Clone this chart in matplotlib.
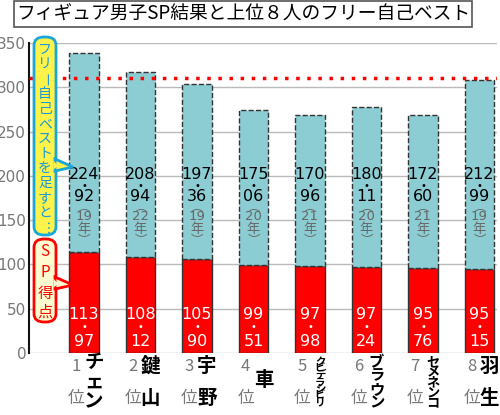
import matplotlib
matplotlib.use("Agg")
import matplotlib.pyplot as plt
from matplotlib.patches import FancyBboxPatch, Polygon

plt.rcParams['font.family'] = ['Noto Sans CJK JP', 'DejaVu Sans']

ranks = ["1", "2", "3", "4", "5", "6", "7", "8"]
names = ["チェン", "鍵山", "宇野", "車", "クビデラシビリ", "ブラウン", "セメネンコ", "羽生"]
sp = [113.97, 108.12, 105.90, 99.51, 97.98, 97.24, 95.76, 95.15]
free = [224.92, 208.94, 197.36, 175.06, 170.96, 180.11, 172.60, 212.99]
sp_lbl = [("113", "97"), ("108", "12"), ("105", "90"), ("99", "51"), ("97", "98"), ("97", "24"), ("95", "76"), ("95", "15")]
free_lbl = [("224", "92"), ("208", "94"), ("197", "36"), ("175", "06"), ("170", "96"), ("180", "11"), ("172", "60"), ("212", "99")]
years = ["19", "22", "19", "20", "21", "20", "21", "19"]
ref_line = 310.5

W, H = 500, 415
fig = plt.figure(figsize=(5, 4.15), dpi=100)
def fx(px): return px / W
def fy(py): return 1 - py / H

ax = fig.add_axes([fx(29), fy(353), fx(497) - fx(29), fy(43) - fy(353)])
ax.set_ylim(0, 350)
ax.set_xlim(-0.973, 7.31)
x = list(range(len(sp)))
ax.bar(x, sp, width=0.53, color='#ff0000', edgecolor='#333333', linewidth=1, zorder=3)
ax.bar(x, free, bottom=sp, width=0.53, color='#8ccdd3', edgecolor='#333333', linewidth=1, linestyle='--', zorder=3)
ax.axhline(ref_line, color='#ff0000', linestyle=(0, (1, 2.2)), linewidth=2.5, zorder=4)
ax.set_yticks(range(0, 351, 50))
ax.tick_params(axis='y', length=0, labelsize=11, labelcolor='#777777', pad=2)
for lb in ax.get_yticklabels():
    lb.set_family('DejaVu Sans')
ax.set_xticks([])
ax.grid(axis='y', color='#bbbbbb', linewidth=1, zorder=0)
for s in ['top', 'right', 'bottom']:
    ax.spines[s].set_visible(False)
ax.spines['left'].set_color('#111111')
ax.spines['left'].set_linewidth(1.5)

nf = dict(ha='center', va='center', fontsize=11.5, zorder=5, family='Liberation Sans Narrow')
for i in x:
    a, b = free_lbl[i]
    ax.text(i, 201, a, color='black', **nf)
    ax.text(i, 189, "•", ha='center', va='center', fontsize=7, color='black', zorder=5, family='DejaVu Sans')
    ax.text(i, 177, b, color='black', **nf)
    ax.text(i, 165, "︵", ha='center', va='center', fontsize=9, color='#666666', zorder=5)
    ax.text(i, 154, years[i], ha='center', va='center', fontsize=9.5, color='#666666', zorder=5, family='Liberation Sans Narrow')
    ax.text(i, 140, "年", ha='center', va='center', fontsize=9.5, color='#666666', zorder=5)
    ax.text(i, 127, "︶", ha='center', va='center', fontsize=9, color='#666666', zorder=5)
    a, b = sp_lbl[i]
    ax.text(i, 43, a, color='white', **nf)
    ax.text(i, 29, "•", ha='center', va='center', fontsize=7, color='white', zorder=5, family='DejaVu Sans')
    ax.text(i, 13, b, color='white', **nf)
    cx = 84 + 56.5 * i
    fig.text(fx(cx - 8), fy(366), ranks[i], ha='center', va='center', fontsize=12, color='#777777')
    fig.text(fx(cx - 8), fy(398), "位", ha='center', va='center', fontsize=12, color='#777777')
    n = names[i]
    k = len(n)
    if k == 1:
        ys = [380]; fs = 14
    elif k == 2:
        ys = [366, 398]; fs = 14
    else:
        top, bot = 362, 402
        ys = [top + (bot - top) * j / (k - 1) for j in range(k)]
        fs = 14 if k == 3 else (11 if k == 4 else (9.5 if k == 5 else 7.5))
    for ch, yy in zip(n, ys):
        fig.text(fx(cx + 10), fy(yy), ch, ha='center', va='center', fontsize=fs,
                 color='black', fontweight='bold')

fig.text(fx(243), fy(14), "フィギュア男子SP結果と上位８人のフリー自己ベスト", ha='center', va='center',
         fontsize=13.5, color='black',
         bbox=dict(boxstyle='square,pad=0.12', facecolor='white', edgecolor='#555555', linewidth=1.2))

def callout(x0, y0, x1, y1, tipy, fc, ec):
    p = FancyBboxPatch((fx(x0), fy(y1)), fx(x1) - fx(x0), fy(y0) - fy(y1),
                       boxstyle='round,pad=0,rounding_size=0.02', transform=fig.transFigure,
                       facecolor=fc, edgecolor=ec, linewidth=2, zorder=10)
    fig.add_artist(p)
    tri = Polygon([(fx(x1 - 1), fy(tipy - 6)), (fx(x1 + 17), fy(tipy + 2)), (fx(x1 - 1), fy(tipy + 6))],
                  closed=True, transform=fig.transFigure, facecolor=fc, edgecolor=ec, linewidth=2, zorder=11)
    fig.add_artist(tri)
    fig.add_artist(Polygon([(fx(x1 - 2.5), fy(tipy - 4.5)), (fx(x1 - 2.5), fy(tipy + 4.5)), (fx(x1 + 2), fy(tipy + 1))],
                           closed=True, transform=fig.transFigure, facecolor=fc, edgecolor='none', zorder=12))

callout(34, 37, 56, 235, 165, '#fff24a', '#1aa6d8')
t1 = "フリー自己ベストを足すと…"
for j, ch in enumerate(t1):
    yy = 50 + j * 14.8
    fig.text(fx(45), fy(yy), ch, ha='center', va='center', fontsize=10, color='#1a9ad8',
             rotation=(-90 if ch in "ー…" else 0), zorder=13)
callout(34, 239, 56, 322, 283, '#fffbd0', '#ff0000')
for ch, yy in zip("SP得点", [252, 272, 293, 312]):
    fig.text(fx(45), fy(yy), ch, ha='center', va='center', fontsize=11, color='#ff0000', zorder=13)

fig.savefig("out.png", dpi=100)
